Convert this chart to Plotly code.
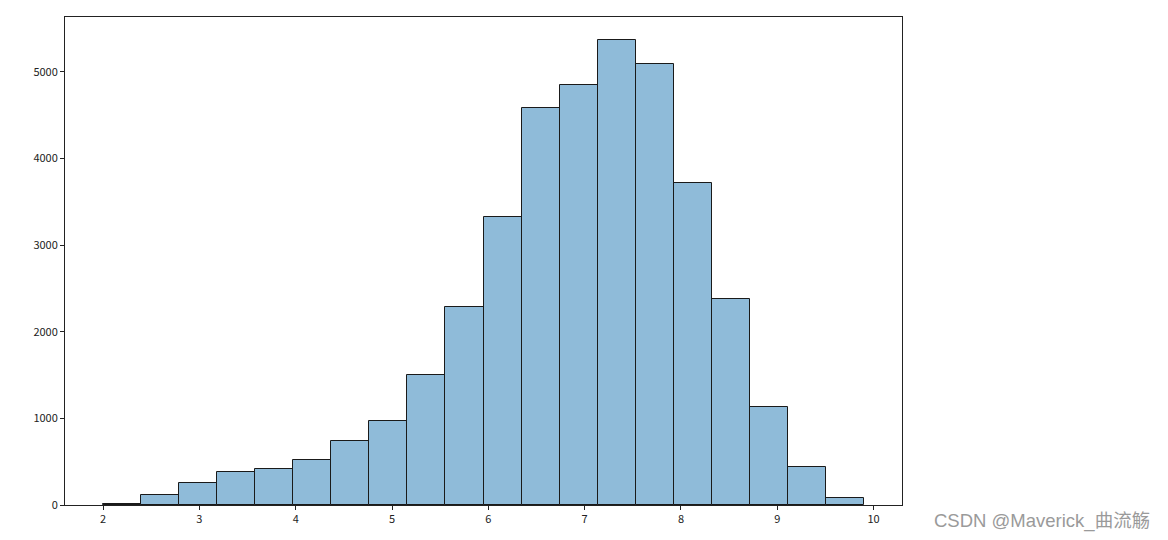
import numpy as np
import plotly.graph_objects as go

# Histogram data (20 bins between 2.0 and 9.9)
bin_min = 2.0
bin_max = 9.9
n_bins = 20
counts = [15, 115, 253, 380, 415, 518, 737, 968, 1498, 2290,
          3330, 4588, 4850, 5366, 5088, 3721, 2378, 1135, 438, 81]
x_ticks = [2, 3, 4, 5, 6, 7, 8, 9, 10]
y_ticks = [0, 1000, 2000, 3000, 4000, 5000]

edges = np.linspace(bin_min, bin_max, n_bins + 1)
centers = (edges[:-1] + edges[1:]) / 2
width = edges[1] - edges[0]

fig = go.Figure()
fig.add_trace(go.Bar(
    x=centers, y=counts, width=width,
    marker=dict(color="rgba(31,119,180,0.5)", line=dict(color="#1a1a1a", width=1)),
    hoverinfo="x+y",
))

span = bin_max - bin_min
fig.update_layout(
    width=1160, height=532,
    margin=dict(l=57, r=266, t=9, b=35),
    plot_bgcolor="white", paper_bgcolor="white",
    showlegend=False,
    font=dict(family="Noto Sans CJK SC, DejaVu Sans, sans-serif", size=11, color="#222"),
    bargap=0,
    xaxis=dict(range=[bin_min - 0.05 * span, bin_max + 0.05 * span],
               tickvals=x_ticks, ticks="outside", ticklen=4, tickcolor="#222",
               showline=True, linecolor="#222", linewidth=1, mirror=True,
               showgrid=False, zeroline=False),
    yaxis=dict(range=[0, max(counts) * 1.05],
               tickvals=y_ticks, ticks="outside", ticklen=4, tickcolor="#222",
               showline=True, linecolor="#222", linewidth=1, mirror=True,
               showgrid=False, zeroline=False),
    annotations=[dict(text="CSDN @Maverick_曲流觞", xref="paper", yref="paper",
                      x=1.0, y=0, xanchor="left", yanchor="middle",
                      xshift=30, yshift=-16, showarrow=False,
                      font=dict(size=18.5, color="#9a9a9a",
                                family="Liberation Sans, Noto Sans CJK SC, sans-serif"))],
)

fig.write_html("out.html")
